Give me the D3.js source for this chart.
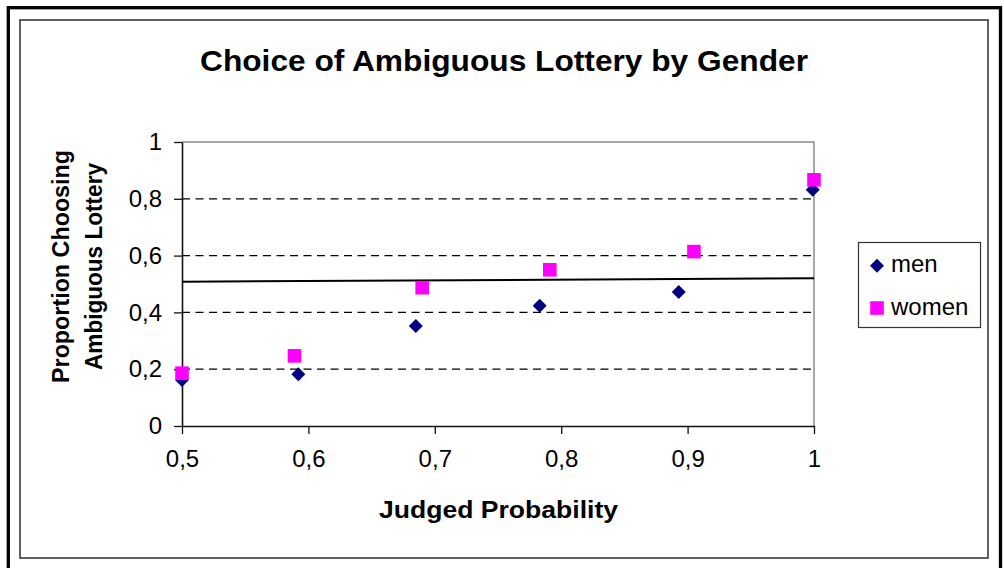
<!DOCTYPE html>
<html>
<head>
<meta charset="utf-8">
<script src="https://cdn.jsdelivr.net/npm/d3@7"></script>
<style>
  html, body { margin: 0; padding: 0; background: #fff; }
  svg { display: block; font-family: Arial, "Liberation Sans", sans-serif; }
</style>
</head>
<body>
<div id="viz"></div>
<script>
// data
const menX = [0.5, 0.592, 0.685, 0.783, 0.893, 0.999];
const menY = [0.162, 0.182, 0.352, 0.423, 0.472, 0.832];
const womenX = [0.5, 0.589, 0.69, 0.791, 0.905, 1.0];
const womenY = [0.186, 0.247, 0.487, 0.55, 0.614, 0.867];
const trendX = [0.5, 1.0];
const trendY = [0.508, 0.52];
const xTicks = [0.5, 0.6, 0.7, 0.8, 0.9, 1];
const yTicks = [0, 0.2, 0.4, 0.6, 0.8, 1];
const gridTicks = [0.2, 0.4, 0.6, 0.8];
const seriesNames = ['men', 'women'];
const seriesColors = ['#000080', '#ff00ff'];

const WIDTH = 1004;
const HEIGHT = 568;
const PLOT = { left: 182, right: 814, top: 142, bottom: 426 };

const fmt = d => String(d).replace('.', ',');

const svg = d3.select('#viz').append('svg')
  .attr('width', WIDTH)
  .attr('height', HEIGHT);

// frames
svg.append('rect')
  .attr('x', 8.3).attr('y', 7.7)
  .attr('width', 1000.5 - 8.3).attr('height', 600)
  .attr('fill', 'none').attr('stroke', '#000').attr('stroke-width', 3.3);
svg.append('rect')
  .attr('x', 20).attr('y', 20)
  .attr('width', 968).attr('height', 538)
  .attr('fill', 'none').attr('stroke', '#3a3a3a').attr('stroke-width', 1.6);

const x = d3.scaleLinear().domain([0.5, 1]).range([PLOT.left, PLOT.right]);
const y = d3.scaleLinear().domain([0, 1]).range([PLOT.bottom, PLOT.top]);

// title
svg.append('text')
  .attr('x', 504).attr('y', 71)
  .attr('text-anchor', 'middle')
  .attr('font-size', 30).attr('font-weight', 'bold')
  .attr('textLength', 608).attr('lengthAdjust', 'spacingAndGlyphs')
  .text('Choice of Ambiguous Lottery by Gender');

// grid lines
svg.append('g')
  .selectAll('line')
  .data(gridTicks)
  .join('line')
  .attr('x1', PLOT.left).attr('x2', PLOT.right)
  .attr('y1', d => y(d)).attr('y2', d => y(d))
  .attr('stroke', '#000').attr('stroke-width', 1.2)
  .attr('stroke-dasharray', '8,5.5');

// plot frame top / right
svg.append('path')
  .attr('d', `M${PLOT.left},${y(1)}H${x(1)}V${y(0)}`)
  .attr('fill', 'none').attr('stroke', '#8c8c8c').attr('stroke-width', 1.5);

// axes
const xAxis = d3.axisBottom(x).tickValues(xTicks).tickFormat(fmt)
  .tickSizeInner(8).tickSizeOuter(0).tickPadding(16);
const yAxis = d3.axisLeft(y).tickValues(yTicks).tickFormat(fmt)
  .tickSizeInner(8).tickSizeOuter(0).tickPadding(12);

const gx = svg.append('g')
  .attr('transform', `translate(0,${PLOT.bottom})`)
  .call(xAxis);
const gy = svg.append('g')
  .attr('transform', `translate(${PLOT.left},0)`)
  .call(yAxis);

[gx, gy].forEach(g => {
  g.select('.domain').attr('stroke', '#111').attr('stroke-width', 1.6);
  g.selectAll('.tick line').attr('stroke', '#111').attr('stroke-width', 1.3);
  g.selectAll('.tick text')
    .attr('font-family', 'Arial, "Liberation Sans", sans-serif')
    .attr('font-size', 24).attr('fill', '#000');
});

// axis titles
svg.append('text')
  .attr('x', 498.5).attr('y', 518)
  .attr('text-anchor', 'middle')
  .attr('font-size', 23).attr('font-weight', 'bold')
  .attr('textLength', 239).attr('lengthAdjust', 'spacingAndGlyphs')
  .text('Judged Probability');

const yTitle = svg.append('g')
  .attr('transform', 'translate(0,266.5) rotate(-90)');
yTitle.append('text')
  .attr('x', 0).attr('y', 69)
  .attr('text-anchor', 'middle')
  .attr('font-size', 23).attr('font-weight', 'bold')
  .attr('textLength', 233).attr('lengthAdjust', 'spacingAndGlyphs')
  .text('Proportion Choosing');
yTitle.append('text')
  .attr('x', 0).attr('y', 102)
  .attr('text-anchor', 'middle')
  .attr('font-size', 23).attr('font-weight', 'bold')
  .attr('textLength', 207).attr('lengthAdjust', 'spacingAndGlyphs')
  .text('Ambiguous Lottery');

// trend line
svg.append('path')
  .datum(d3.zip(trendX, trendY))
  .attr('d', d3.line().x(d => x(d[0])).y(d => y(d[1])))
  .attr('fill', 'none').attr('stroke', '#000').attr('stroke-width', 2);

const diamond = d3.symbol().type(d3.symbolSquare).size(98);
const square = d3.symbol().type(d3.symbolSquare).size(185);

// men (diamonds)
svg.append('g')
  .selectAll('path')
  .data(d3.zip(menX, menY))
  .join('path')
  .attr('d', diamond)
  .attr('transform', d => `translate(${x(d[0])},${y(d[1])}) rotate(45)`)
  .attr('fill', seriesColors[0]);

// women (squares)
svg.append('g')
  .selectAll('path')
  .data(d3.zip(womenX, womenY))
  .join('path')
  .attr('d', square)
  .attr('transform', d => `translate(${x(d[0])},${y(d[1])})`)
  .attr('fill', seriesColors[1]);

// legend
const legend = svg.append('g');
legend.append('rect')
  .attr('x', 858.5).attr('y', 242.5)
  .attr('width', 122).attr('height', 85)
  .attr('fill', '#fff').attr('stroke', '#333').attr('stroke-width', 1.2);

const items = legend.selectAll('g.item')
  .data(seriesNames)
  .join('g')
  .attr('class', 'item')
  .attr('transform', (d, i) => `translate(877,${i === 0 ? 265.7 : 308})`);
items.append('path')
  .attr('d', (d, i) => (i === 0 ? diamond() : square()))
  .attr('transform', (d, i) => (i === 0 ? 'rotate(45)' : null))
  .attr('fill', (d, i) => seriesColors[i]);
items.append('text')
  .attr('x', 14).attr('y', 6.5)
  .attr('font-size', 24)
  .text(d => d);
</script>
</body>
</html>
